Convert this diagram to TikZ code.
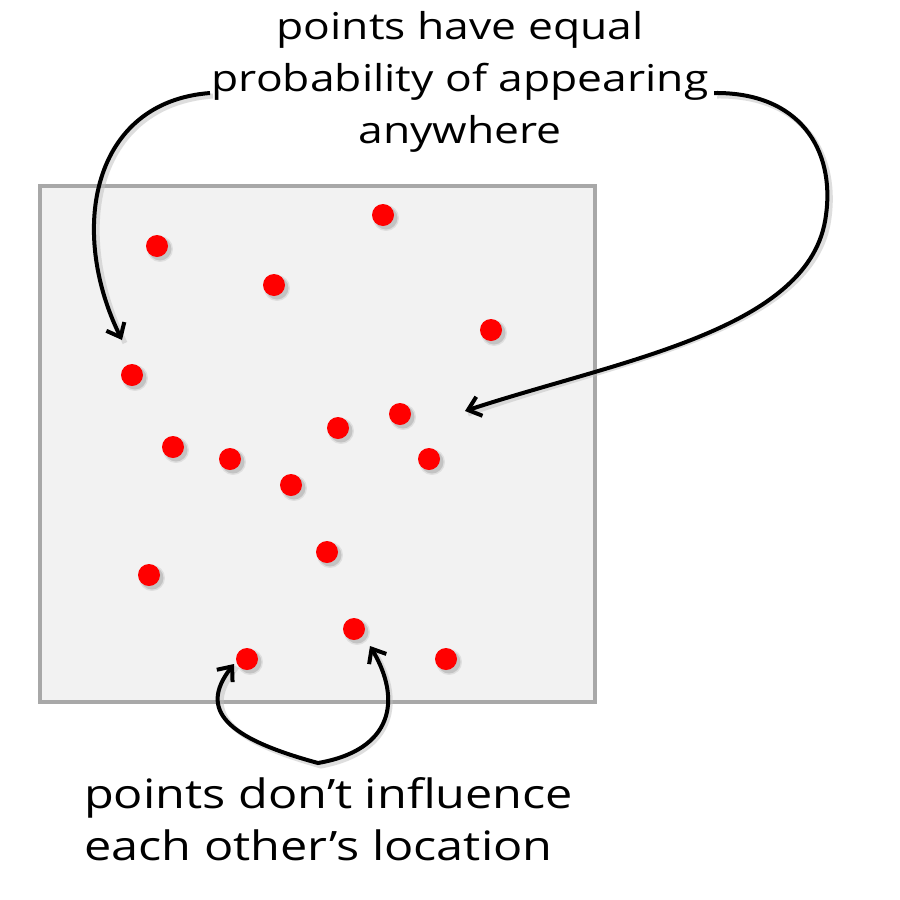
\documentclass[tikz,border=0pt]{standalone}
\usepackage{fontspec}
\setmainfont{Open Sans}[FakeStretch=1.2]
\usetikzlibrary{arrows.meta}
\definecolor{boxfill}{HTML}{F2F2F2}
\definecolor{boxline}{HTML}{A8A8A8}
\definecolor{dotred}{HTML}{FF0000}
\tikzset{
  pt/.style={circle,fill=dotred,inner sep=0pt,minimum size=22pt},
  lbl/.style={font=\fontsize{40.5}{52}\selectfont,inner sep=0pt,align=center},
  conn/.style={line width=4pt,-{Straight Barb[length=12pt,width=20pt,line width=4pt]}},
  connshadow/.style={line width=5pt,draw=black!25,opacity=0.5},
}
\begin{document}
\begin{tikzpicture}[x=1pt,y=-1pt]
\useasboundingbox (0,0) rectangle (900,900);
\fill[white] (0,0) rectangle (900,900);
\draw[draw=boxline,fill=boxfill,line width=3.5pt] (40,186) rectangle (595,702);
% dots
\foreach \n/\x/\y in {a/157/246,b/383/215,c/274/285,d/491/330,e/132/375,f/400/414,g/338/428,h/173/447,i/230/459,j/429/459,k/291/485,l/327/552,m/149/575,n/354/629,o/247/659,p/446/659}{
  \fill[black,opacity=0.08] (\x+3,\y+3) circle (13);
  \fill[black,opacity=0.12] (\x+3,\y+3) circle (11.5);
  \node[pt] (\n) at (\x,\y) {};
}
% labels
\node[lbl,font=\fontsize{37}{52}\selectfont] (top) at (460,82) {points have equal\\probability of appearing\\anywhere};
\node[lbl,align=left,anchor=west] (bot) at (84,819) {points don’t influence\\each other’s location};
\coordinate (ls) at (210,93);
\coordinate (lt) at (122,340);
\coordinate (rs) at (714,93);
\coordinate (rm) at (826,215);
\coordinate (rt) at (465,411);
\coordinate (bm) at (318,763);
\coordinate (bl) at (234,664);
\coordinate (br) at (370,646);
% shadows
\draw[connshadow] ([shift={(3,3)}]ls) .. controls (95,105) and (70,230) .. ([shift={(3,3)}]lt);
\draw[connshadow] ([shift={(3,3)}]rs) .. controls (800,95) and (838,150) .. ([shift={(3,3)}]rm) .. controls (815,330) and (620,360) .. ([shift={(3,3)}]rt);
\draw[connshadow] ([shift={(3,3)}]bl) .. controls (200,712) and (228,740) .. ([shift={(3,3)}]bm) .. controls (395,752) and (405,700) .. ([shift={(3,3)}]br);
% connectors
\draw[conn] (ls) .. controls (92,102) and (68,230) .. (lt);
\draw[conn] (rs) .. controls (800,92) and (835,150) .. (rm) .. controls (812,330) and (620,360) .. (rt);
\draw[conn,{Straight Barb[length=12pt,width=20pt,line width=4pt]}-{Straight Barb[length=12pt,width=20pt,line width=4pt]}] (bl) .. controls (198,710) and (226,738) .. (bm) .. controls (393,750) and (402,700) .. (br);
\end{tikzpicture}
\end{document}
